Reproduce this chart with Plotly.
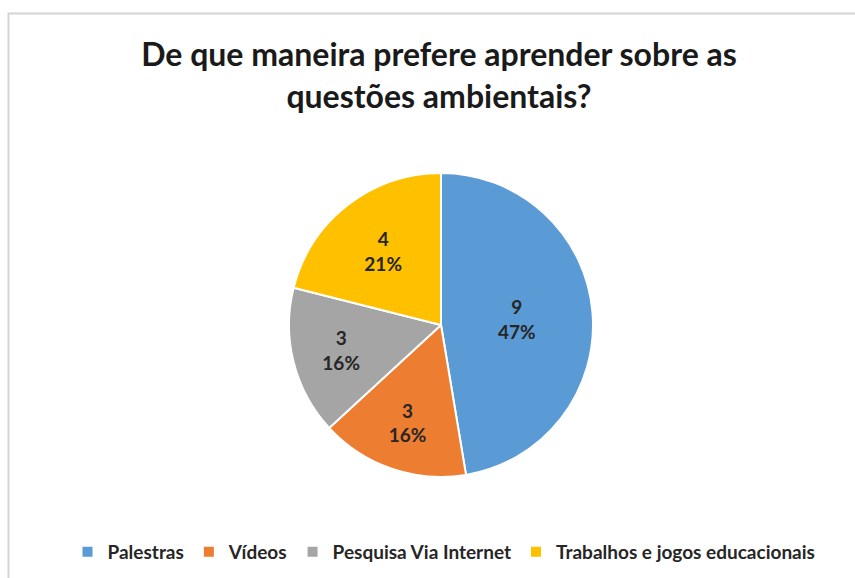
import plotly.graph_objects as go

# Survey answers: preferred way to learn about environmental issues
categories = ["Palestras", "Vídeos", "Pesquisa Via Internet", "Trabalhos e jogos educacionais"]
counts = [9, 3, 3, 4]
colors = ["#5B9BD5", "#ED7D31", "#A5A5A5", "#FFC000"]

W, H = 855, 578

fig = go.Figure(
    go.Pie(
        labels=categories,
        values=counts,
        sort=False,
        direction="clockwise",
        rotation=0,
        marker=dict(colors=colors, line=dict(color="white", width=2)),
        texttemplate="%{value}<br>%{percent:.0%}",
        textposition="inside",
        insidetextorientation="horizontal",
        textfont=dict(family="Lato", size=19, color="#262626", weight="bold"),
        hoverinfo="label+value+percent",
        domain=dict(x=[289 / W, 593 / W], y=[1 - 478 / H, 1 - 172 / H]),
    )
)

fig.update_layout(
    width=W,
    height=H,
    margin=dict(l=0, r=0, t=0, b=0),
    paper_bgcolor="white",
    title=dict(
        text="De que maneira prefere aprender sobre as<br>questões ambientais?",
        x=439 / W,
        xanchor="center",
        y=1 - 66 / H,
        yanchor="middle",
        font=dict(family="Lato", size=32, color="#1a1a1a", weight="bold"),
    ),
    legend=dict(
        orientation="h",
        x=444 / W,
        xanchor="center",
        y=1 - 552 / H,
        yanchor="middle",
        itemwidth=30,
        font=dict(family="Lato", size=19, color="#262626", weight="bold"),
        traceorder="normal",
    ),
    shapes=[
        dict(
            type="rect",
            xref="paper",
            yref="paper",
            x0=8.5 / W,
            x1=1.05,
            y0=-0.05,
            y1=1 - 13.5 / H,
            line=dict(color="#D4D4D4", width=2),
            layer="below",
        )
    ],
)

fig.write_html("out.html")
